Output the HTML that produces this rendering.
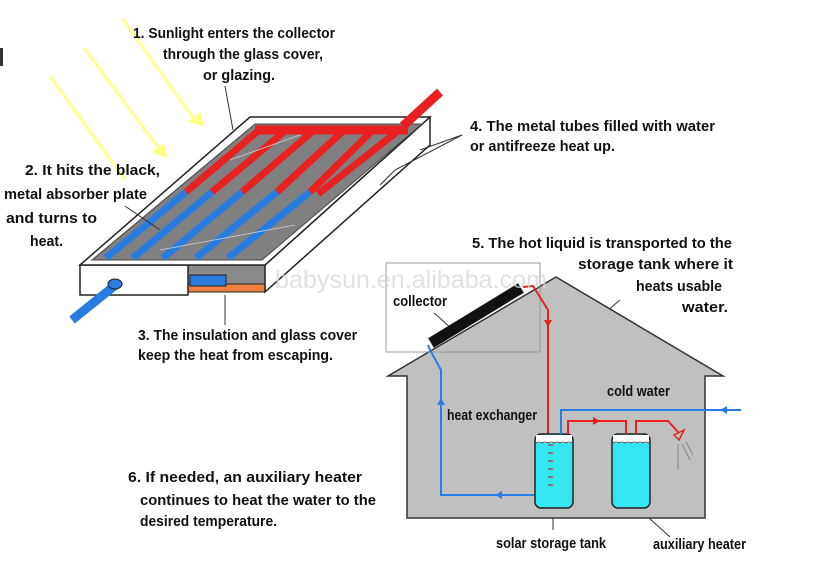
<!DOCTYPE html>
<html><head><meta charset="utf-8"><style>
html,body{margin:0;padding:0;background:#fff;width:822px;height:563px;overflow:hidden}
svg{display:block}
text{font-family:"Liberation Sans Narrow","Liberation Sans",sans-serif;font-size:15px;fill:#111;font-weight:bold}
</style></head><body>
<svg width="822" height="563" viewBox="0 0 822 563" xmlns="http://www.w3.org/2000/svg">
<!-- sun rays -->
<g stroke="#ffffa0" stroke-width="3.5" fill="none">
<line x1="122" y1="18" x2="196" y2="122"/>
<line x1="84" y1="48" x2="160" y2="150"/>
<line x1="50" y1="76" x2="125" y2="180"/>
</g>
<polygon points="204,126 188,122 200,112" fill="#ffff80"/>
<polygon points="167,158 152,152 164,143" fill="#ffff80"/>
<rect x="0" y="48" width="3" height="18" fill="#333"/>

<!-- collector panel -->
<polygon points="188,262 265,262 265,292 188,292" fill="#8a8a8a" stroke="#222"/>
<rect x="188" y="284" width="77" height="8" fill="#f08040" stroke="#222"/>
<polygon points="430,117 430,145 265,292 265,265" fill="#fff" stroke="#222" stroke-width="1.5"/>
<rect x="80" y="265" width="108" height="30" fill="#fff" stroke="#222" stroke-width="1.5"/>
<polygon points="250,117 430,117 265,265 80,265" fill="#fff" stroke="#222" stroke-width="1.5"/>
<polygon points="255,124 422,124 262,260 92,260" fill="#808080" stroke="#444"/>
<rect x="190" y="275" width="36" height="11" fill="#2a7de0" stroke="#222"/>
<line x1="118" y1="283" x2="72" y2="320" stroke="#2a7de0" stroke-width="9"/>
<ellipse cx="115" cy="284" rx="7" ry="5" fill="#2a7de0" stroke="#222"/>
<!-- tubes -->
<g stroke-width="7" stroke-linecap="butt">
<line x1="258" y1="131" x2="186" y2="192" stroke="#e82020"/><line x1="186" y1="192" x2="106" y2="258" stroke="#2a7de0"/>
<line x1="285" y1="131" x2="212" y2="192" stroke="#e82020"/><line x1="212" y1="192" x2="133" y2="258" stroke="#2a7de0"/>
<line x1="313" y1="131" x2="242" y2="192" stroke="#e82020"/><line x1="242" y1="192" x2="163" y2="258" stroke="#2a7de0"/>
<line x1="343" y1="131" x2="277" y2="192" stroke="#e82020"/><line x1="277" y1="192" x2="196" y2="258" stroke="#2a7de0"/>
<line x1="372" y1="131" x2="310" y2="192" stroke="#e82020"/><line x1="310" y1="192" x2="228" y2="258" stroke="#2a7de0"/>
<line x1="398" y1="131" x2="318" y2="194" stroke="#e82020"/>
</g>
<line x1="255" y1="130" x2="408" y2="130" stroke="#e82020" stroke-width="9"/>
<line x1="403" y1="126" x2="440" y2="92" stroke="#e82020" stroke-width="9"/>
<g stroke="#ccc" stroke-width="0.8"><line x1="230" y1="160" x2="300" y2="135"/><line x1="160" y1="250" x2="295" y2="225"/></g>

<!-- leader lines -->
<g stroke="#333" stroke-width="1" fill="none">
<line x1="225" y1="86" x2="233" y2="130"/>
<polyline points="462,135 395,170 380,185"/><line x1="462" y1="135" x2="420" y2="150"/>
<line x1="125" y1="206" x2="160" y2="230"/>
<line x1="225" y1="295" x2="225" y2="325"/>
<line x1="620" y1="300" x2="553" y2="357"/>
<line x1="434" y1="313" x2="450" y2="327"/>
<line x1="521" y1="432" x2="547" y2="462"/>
<line x1="553" y1="503" x2="553" y2="530"/>
<line x1="638" y1="508" x2="670" y2="537"/>
</g>

<!-- house -->
<polygon points="388,376 556,277 723,376 705,376 705,518 407,518 407,376" fill="#c0c0c0" stroke="#333" stroke-width="1.5"/>
<rect x="386" y="263" width="154" height="89" fill="none" stroke="#999" stroke-width="1"/>
<line x1="431" y1="343" x2="521" y2="288" stroke="#111" stroke-width="11"/>
<polyline points="523,287 533,286 548,310 548,495" fill="none" stroke="#e82020" stroke-width="2"/>
<polygon points="544,320 552,320 548,327" fill="#e82020"/>
<polyline points="548,495 441,495 441,370 430,350 428,345" fill="none" stroke="#2a7de0" stroke-width="2"/>
<polygon points="441,398 437,405 445,405" fill="#2a7de0"/>
<polygon points="495,495 502,491 502,499" fill="#2a7de0"/>
<!-- tanks -->
<rect x="535" y="434" width="38" height="74" rx="6" fill="#33e6f0" stroke="#222" stroke-width="1.5"/>
<rect x="536" y="435" width="36" height="8" fill="#fff"/>
<rect x="612" y="434" width="38" height="74" rx="6" fill="#33e6f0" stroke="#222" stroke-width="1.5"/>
<rect x="613" y="435" width="36" height="8" fill="#fff"/>
<g stroke="#333" stroke-width="0.8" fill="none">
<path d="M536,443 q3,-2 6,0 q3,-2 6,0 q3,-2 6,0 q3,-2 6,0 q3,-2 6,0 q3,-2 6,0"/>
<path d="M613,443 q3,-2 6,0 q3,-2 6,0 q3,-2 6,0 q3,-2 6,0 q3,-2 6,0 q3,-2 6,0"/>
</g>
<g stroke="#a04040" stroke-width="1.2" fill="none">
<path d="M548,445 h5 M548,453 h5 M548,461 h5 M548,469 h5 M548,477 h5 M548,485 h5"/>
</g>
<!-- pipes -->
<polyline points="741,410 561,410 561,434" fill="none" stroke="#2a7de0" stroke-width="2"/>
<polygon points="720,410 727,406 727,414" fill="#2a7de0"/>
<polyline points="568,434 568,421 626,421 626,434" fill="none" stroke="#e82020" stroke-width="2"/>
<polygon points="600,421 593,417 593,425" fill="#e82020"/>
<polyline points="636,434 636,421 668,421 678,432" fill="none" stroke="#e82020" stroke-width="2"/>
<polygon points="674,435 684,430 679,440" fill="none" stroke="#e82020" stroke-width="1.5"/>
<g stroke="#888" stroke-width="1"><line x1="678" y1="444" x2="678" y2="470"/><line x1="682" y1="444" x2="690" y2="460"/><line x1="686" y1="442" x2="693" y2="455"/></g>

<!-- watermark -->
<text x="275" y="288" style="font-family:'Liberation Sans',sans-serif;font-weight:normal;font-size:25px;fill:#d8d8d8;opacity:.75" textLength="272" lengthAdjust="spacingAndGlyphs">babysun.en.alibaba.com</text>

<!-- labels -->
<g>
<text x="133" y="38" textLength="202" lengthAdjust="spacingAndGlyphs">1. Sunlight enters the collector</text>
<text x="163" y="59" textLength="160" lengthAdjust="spacingAndGlyphs">through the glass cover,</text>
<text x="203" y="80" textLength="72" lengthAdjust="spacingAndGlyphs">or glazing.</text>
<text x="470" y="131" textLength="245" lengthAdjust="spacingAndGlyphs">4. The metal tubes filled with water</text>
<text x="470" y="151" textLength="145" lengthAdjust="spacingAndGlyphs">or antifreeze heat up.</text>
<text x="25" y="175" textLength="135" lengthAdjust="spacingAndGlyphs">2. It hits the black,</text>
<text x="4" y="199" textLength="143" lengthAdjust="spacingAndGlyphs">metal absorber plate</text>
<text x="6" y="223" textLength="91" lengthAdjust="spacingAndGlyphs">and turns  to</text>
<text x="30" y="246" textLength="33" lengthAdjust="spacingAndGlyphs">heat.</text>
<text x="138" y="340" textLength="219" lengthAdjust="spacingAndGlyphs">3. The insulation and glass cover</text>
<text x="138" y="360" textLength="195" lengthAdjust="spacingAndGlyphs">keep the heat from escaping.</text>
<text x="472" y="248" textLength="260" lengthAdjust="spacingAndGlyphs">5. The hot liquid is transported to the</text>
<text x="578" y="269" textLength="155" lengthAdjust="spacingAndGlyphs">storage tank where it</text>
<text x="636" y="291" textLength="86" lengthAdjust="spacingAndGlyphs">heats usable</text>
<text x="682" y="312" textLength="46" lengthAdjust="spacingAndGlyphs">water.</text>
<text x="393" y="306" textLength="54" lengthAdjust="spacingAndGlyphs">collector</text>
<text x="607" y="396" textLength="63" lengthAdjust="spacingAndGlyphs">cold water</text>
<text x="447" y="420" textLength="90" lengthAdjust="spacingAndGlyphs">heat exchanger</text>
<text x="128" y="482" textLength="234" lengthAdjust="spacingAndGlyphs">6.  If needed, an auxiliary heater</text>
<text x="140" y="505" textLength="236" lengthAdjust="spacingAndGlyphs">continues to heat the water to the</text>
<text x="140" y="526" textLength="137" lengthAdjust="spacingAndGlyphs">desired temperature.</text>
<text x="496" y="548" textLength="110" lengthAdjust="spacingAndGlyphs">solar storage tank</text>
<text x="653" y="549" textLength="93" lengthAdjust="spacingAndGlyphs">auxiliary heater</text>
</g>
</svg>
</body></html>
